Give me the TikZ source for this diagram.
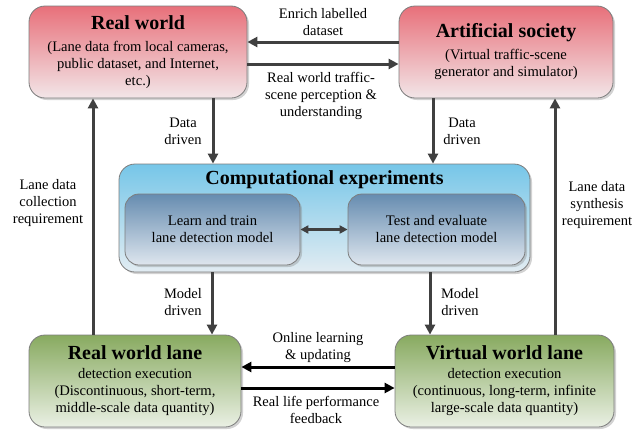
\documentclass[tikz,border=0pt]{standalone}
\usepackage{fontspec}
\setmainfont{Liberation Serif}
\usetikzlibrary{arrows.meta,shadows}
\definecolor{redtop}{RGB}{232,112,122}
\definecolor{redbot}{RGB}{242,230,232}
\definecolor{bluetop}{RGB}{118,198,232}
\definecolor{bluebot}{RGB}{226,236,242}
\definecolor{intop}{RGB}{102,140,176}
\definecolor{inbot}{RGB}{222,230,238}
\definecolor{greentop}{RGB}{136,170,96}
\definecolor{greenbot}{RGB}{234,240,228}
\definecolor{edgegrey}{RGB}{125,125,125}
\definecolor{arrowgrey}{RGB}{64,64,64}
\newcommand{\ttlfont}{\fontsize{20}{22}\selectfont\bfseries}
\tikzset{
  box/.style={draw=edgegrey, line width=0.8pt, rounded corners=16pt, align=center,
    drop shadow={shadow xshift=2pt, shadow yshift=-2pt, opacity=0.35}},
  redbox/.style={box, top color=redtop, bottom color=redbot},
  bluebox/.style={box, top color=bluetop, bottom color=bluebot},
  inbox/.style={box, top color=intop, bottom color=inbot, rounded corners=14pt},
  greenbox/.style={box, top color=greentop, bottom color=greenbot},
  body/.style={font=\fontsize{14.6}{17}\selectfont, align=center},
  ttl/.style={font=\ttlfont},
  lbl/.style={font=\fontsize{14.5}{17}\selectfont, align=center},
  garrow/.style={draw=arrowgrey, line width=3pt, -{Triangle[length=10pt,width=10pt]}},
  barrow/.style={draw=black, line width=3pt, -{Triangle[length=10pt,width=10pt]}},
  dblarrow/.style={draw=arrowgrey, line width=2.2pt, {Triangle[length=8pt,width=8pt]}-{Triangle[length=8pt,width=8pt]}},
}
\begin{document}
\begin{tikzpicture}[x=1pt,y=-1pt]
\useasboundingbox (0,0) rectangle (636,434);
\fill[white] (0,0) rectangle (636,434);

% Boxes
\node[redbox, minimum width=218pt, minimum height=92pt, body] (rw) at (138,52)
  {{\ttlfont Real world}\\[5pt](Lane data from local cameras,\\public dataset, and Internet,\\etc.)};
\node[redbox, minimum width=214pt, minimum height=92pt, body] (as) at (506,52)
  {{\ttlfont Artificial society}\\[5pt](Virtual traffic-scene\\generator and simulator)};
\node[bluebox, minimum width=411pt, minimum height=108pt] (ce) at (324.5,218) {};
\node[ttl] (cet) at (324.5,180) {Computational experiments};
\node[inbox, minimum width=175pt, minimum height=71pt, body] (lt) at (212.5,229.5)
  {Learn and train\\lane detection model};
\node[inbox, minimum width=177pt, minimum height=71pt, body] (te) at (436.5,229.5)
  {Test and evaluate\\lane detection model};
\node[greenbox, minimum width=212pt, minimum height=92pt, body] (rl) at (135,381)
  {{\ttlfont Real world lane}\\[2pt]detection execution\\(Discontinuous, short-term,\\middle-scale data quantity)};
\node[greenbox, minimum width=219pt, minimum height=92pt, body] (vl) at (504.5,381)
  {{\ttlfont Virtual world lane}\\[2pt]detection execution\\(continuous, long-term, infinite\\large-scale data quantity)};

% Coordinates
\coordinate (a1s) at (as.west |- 0,42);
\coordinate (a1e) at (rw.east |- 0,42);
\coordinate (a2s) at (rw.east |- 0,64);
\coordinate (a2e) at (as.west |- 0,64);
\coordinate (d1s) at (213,0 |- rw.south);
\coordinate (d1e) at (213,0 |- ce.north);
\coordinate (d2s) at (433,0 |- as.south);
\coordinate (d2e) at (433,0 |- ce.north);
\coordinate (m1s) at (212,0 |- ce.south);
\coordinate (m1e) at (212,0 |- rl.north);
\coordinate (m2s) at (430,0 |- ce.south);
\coordinate (m2e) at (430,0 |- vl.north);
\coordinate (u1s) at (93,0 |- rl.north);
\coordinate (u1e) at (93,0 |- rw.south);
\coordinate (u2s) at (555,0 |- vl.north);
\coordinate (u2e) at (555,0 |- as.south);
\coordinate (b1s) at (vl.west |- 0,367);
\coordinate (b1e) at (rl.east |- 0,367);
\coordinate (b2s) at (rl.east |- 0,388);
\coordinate (b2e) at (vl.west |- 0,388);

% Arrows
\draw[garrow] (a1s) -- (a1e);
\draw[garrow] (a2s) -- (a2e);
\draw[garrow] (d1s) -- (d1e);
\draw[garrow] (d2s) -- (d2e);
\draw[garrow] (m1s) -- (m1e);
\draw[garrow] (m2s) -- (m2e);
\draw[garrow] (u1s) -- (u1e);
\draw[garrow] (u2s) -- (u2e);
\draw[barrow] (b1s) -- (b1e);
\draw[barrow] (b2s) -- (b2e);
\draw[dblarrow] (lt.east) -- (te.west);

% Labels
\node[lbl] (l1) at (323,22) {Enrich labelled\\dataset};
\node[lbl] (l2) at (321,96) {Real world traffic-\\scene perception \&\\understanding};
\node[lbl] (l3) at (183,131) {Data\\driven};
\node[lbl] (l4) at (462,131) {Data\\driven};
\node[lbl] (l5) at (48,203) {Lane data\\collection\\requirement};
\node[lbl] (l6) at (597,205) {Lane data\\synthesis\\requirement};
\node[lbl] (l7) at (183,302) {Model\\driven};
\node[lbl] (l8) at (460,302) {Model\\driven};
\node[lbl] (l9) at (318,348) {Online learning\\\& updating};
\node[lbl] (l10) at (316,410) {Real life performance\\feedback};
\end{tikzpicture}
\end{document}
